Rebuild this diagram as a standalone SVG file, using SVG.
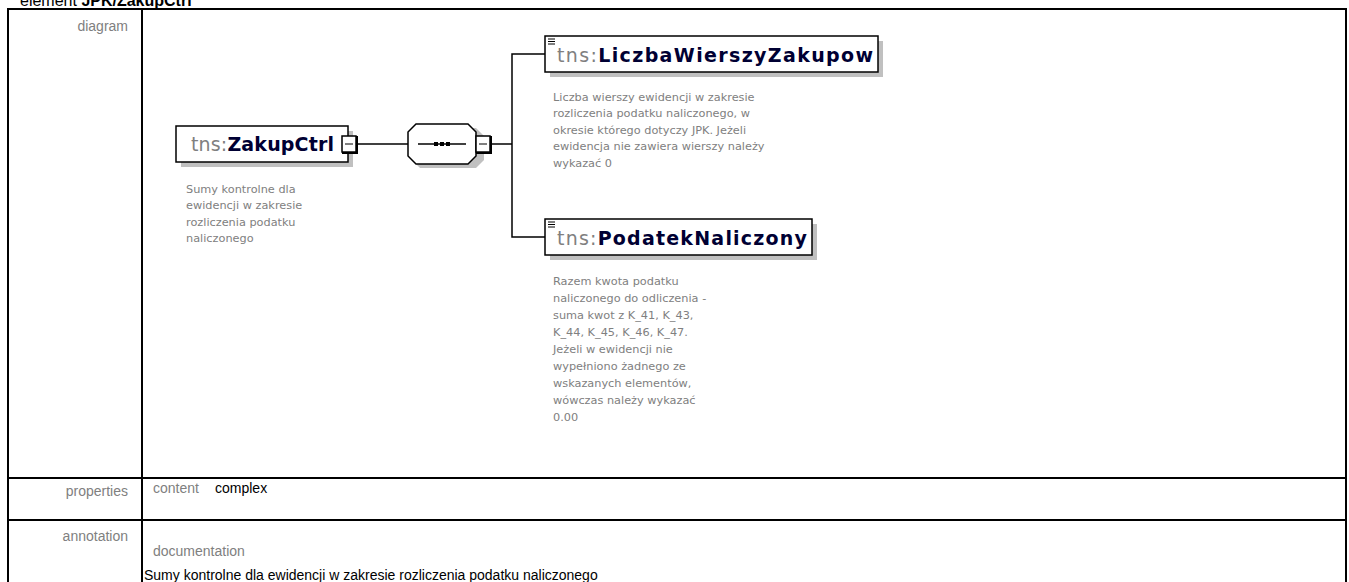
<svg xmlns="http://www.w3.org/2000/svg" width="1349" height="582" viewBox="0 0 1349 582">
<style>
.tbl{fill:none;stroke:#000;stroke-width:2}
.lbl{font-family:"Liberation Sans",Arial,sans-serif;font-size:14px;fill:#808080}
.val{font-family:"Liberation Sans",Arial,sans-serif;font-size:14px;fill:#000}
.box{fill:#fff;stroke:#000;stroke-width:1.5}
.shadow{fill:#c0c0c0}
.title{font-family:"DejaVu Sans",Verdana,sans-serif;font-size:19px}
.ns{fill:#808080}
.nm{fill:#000033;font-weight:bold}
.desc{font-family:"DejaVu Sans",Verdana,sans-serif;font-size:11.3px;fill:#808080}
.conn{fill:none;stroke:#000;stroke-width:1.5}
.btn{fill:#fff;stroke:#000;stroke-width:1.5}
.btn3d{fill:none;stroke:#000;stroke-width:2}
</style>
<rect width="1349" height="582" fill="#fff"/>
<text x="20" y="6" font-family="Liberation Sans,Arial,sans-serif" font-size="16" fill="#000">element <tspan font-weight="bold">JPK/ZakupCtrl</tspan></text>
<g id="table">
<rect class="tbl" x="8" y="9" width="1338" height="590"/>
<line class="tbl" x1="142" y1="9" x2="142" y2="582"/>
<line class="tbl" x1="8" y1="478" x2="1346" y2="478"/>
<line class="tbl" x1="8" y1="520" x2="1346" y2="520"/>
<text class="lbl" x="128" y="31" text-anchor="end">diagram</text>
<text class="lbl" x="128" y="496" text-anchor="end">properties</text>
<text class="lbl" x="153" y="493">content</text>
<text class="val" x="215" y="493">complex</text>
<text class="lbl" x="128" y="541" text-anchor="end">annotation</text>
<text class="lbl" x="153" y="556">documentation</text>
<text class="val" x="144" y="580">Sumy kontrolne dla ewidencji w zakresie rozliczenia podatku naliczonego</text>
</g>
<g id="connectors">
<line class="conn" x1="357" y1="144" x2="408" y2="144"/>
<line class="conn" x1="491" y1="144" x2="512" y2="144"/>
<polyline class="conn" points="545,54 512,54 512,237 545,237"/>
</g>
<g id="ZakupCtrl">
<rect class="shadow" x="181" y="131" width="172" height="36"/>
<rect class="box" x="176" y="126" width="172" height="36"/>
<text class="title" x="191" y="151" textLength="143" lengthAdjust="spacing"><tspan class="ns">tns:</tspan><tspan class="nm">ZakupCtrl</tspan></text>
<rect class="btn" x="342" y="136" width="14" height="16"/>
<polyline class="btn3d" points="357,136 357,153 342,153"/>
<line x1="345" y1="144" x2="353" y2="144" stroke="#000"/>
<text class="desc"><tspan x="186" y="193">Sumy kontrolne dla</tspan><tspan x="186" y="209">ewidencji w zakresie</tspan><tspan x="186" y="226">rozliczenia podatku</tspan><tspan x="186" y="242">naliczonego</tspan></text>
</g>
<g id="sequence">
<polygon class="shadow" points="420,128 476,128 484,136 484,160 476,168 420,168 412,160 412,136"/>
<polygon points="416,124 468,124 476,132 476,156 468,164 416,164 408,156 408,132" fill="#fff" stroke="#000" stroke-width="1.5"/>
<line x1="418" y1="144" x2="466" y2="144" stroke="#000" stroke-width="1.5"/>
<rect x="434" y="142" width="4" height="4"/><rect x="440" y="142" width="4" height="4"/><rect x="446" y="142" width="4" height="4"/>
<rect class="btn" x="476" y="136" width="14" height="16"/>
<polyline class="btn3d" points="491,136 491,153 476,153"/>
<line x1="479" y1="144" x2="487" y2="144" stroke="#000"/>
</g>
<g id="LiczbaWierszyZakupow">
<rect class="shadow" x="550" y="41" width="333" height="36"/>
<rect class="box" x="545" y="36" width="333" height="36"/>
<path d="M548 39h7M548 41.5h7M548 44h7" stroke="#000" stroke-width="1"/>
<text class="title" x="557" y="62" textLength="316" lengthAdjust="spacing"><tspan class="ns">tns:</tspan><tspan class="nm">LiczbaWierszyZakupow</tspan></text>
<text class="desc"><tspan x="553" y="101">Liczba wierszy ewidencji w zakresie</tspan><tspan x="553" y="117">rozliczenia podatku naliczonego, w</tspan><tspan x="553" y="134">okresie którego dotyczy JPK. Jeżeli</tspan><tspan x="553" y="150">ewidencja nie zawiera wierszy należy</tspan><tspan x="553" y="167">wykazać 0</tspan></text>
</g>
<g id="PodatekNaliczony">
<rect class="shadow" x="550" y="224" width="267" height="36"/>
<rect class="box" x="545" y="219" width="267" height="36"/>
<path d="M548 222h7M548 224.5h7M548 227h7" stroke="#000" stroke-width="1"/>
<text class="title" x="557" y="245" textLength="250" lengthAdjust="spacing"><tspan class="ns">tns:</tspan><tspan class="nm">PodatekNaliczony</tspan></text>
<text class="desc"><tspan x="553" y="285">Razem kwota podatku</tspan><tspan x="553" y="302">naliczonego do odliczenia -</tspan><tspan x="553" y="319">suma kwot z K_41, K_43,</tspan><tspan x="553" y="336">K_44, K_45, K_46, K_47.</tspan><tspan x="553" y="353">Jeżeli w ewidencji nie</tspan><tspan x="553" y="370">wypełniono żadnego ze</tspan><tspan x="553" y="387">wskazanych elementów,</tspan><tspan x="553" y="404">wówczas należy wykazać</tspan><tspan x="553" y="421">0.00</tspan></text>
</g>
</svg>
